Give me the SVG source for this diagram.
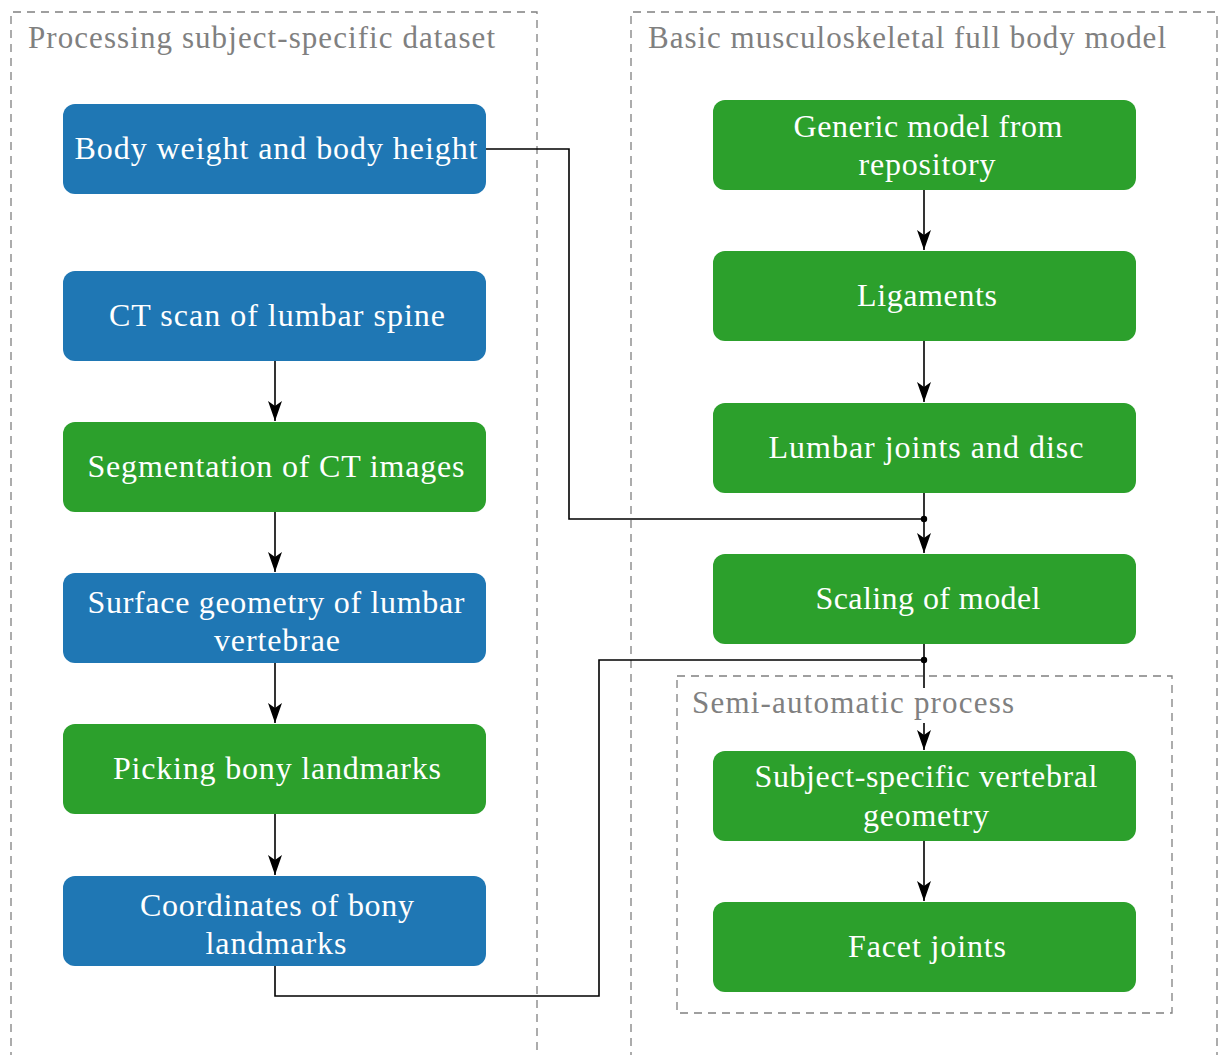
<svg xmlns="http://www.w3.org/2000/svg" width="1219" height="1055" viewBox="0 0 1219 1055">
<defs>
<marker id="ah" viewBox="0 0 20 14" refX="20" refY="7" markerWidth="20" markerHeight="14" markerUnits="userSpaceOnUse" orient="auto">
<path d="M0,0 L20,7 L0,14 L5,7 Z" fill="#000"/>
</marker>
<style>
.grp{fill:none;stroke:#808080;stroke-width:1.3;stroke-dasharray:8,6}
.gl{font-size:31px;fill:#808080}
.blue{fill:#1f77b4}
.green{fill:#2ca02c}
.t{font-size:32px;fill:#fff;text-anchor:middle}
.c{fill:none;stroke:#000;stroke-width:1.6}
.a{marker-end:url(#ah)}
</style>
</defs>
<rect width="1219" height="1055" fill="#fff"/>
<g id="groups" font-family="'Liberation Serif','DejaVu Serif',serif">
<path class="grp" d="M11,1060 L11,12 L537,12 L537,1060"/>
<text class="gl" x="28" y="48" textLength="467">Processing subject-specific dataset</text>
<path class="grp" d="M631,1060 L631,12 L1217,12 L1217,1060"/>
<text class="gl" x="648" y="48" textLength="518">Basic musculoskeletal full body model</text>
<rect class="grp" x="677" y="676" width="495" height="337"/>
</g>
<g id="connectors">
<path class="c" d="M486,149 H569 V519 H924"/>
<circle cx="924" cy="519" r="3.2" fill="#000"/>
<path class="c" d="M275,966 V996 H599 V660 H924"/>
<circle cx="924" cy="660" r="3.2" fill="#000"/>
<path class="c a" d="M275,361 V421"/>
<path class="c a" d="M275,512 V572"/>
<path class="c a" d="M275,663 V723"/>
<path class="c a" d="M275,814 V875"/>
<path class="c a" d="M924,190 V250"/>
<path class="c a" d="M924,341 V402"/>
<path class="c a" d="M924,493 V553"/>
<path class="c a" d="M924,644 V750"/>
<path class="c a" d="M924,841 V901"/>
</g>
<g id="semi-label" font-family="'Liberation Serif','DejaVu Serif',serif">
<rect x="688" y="688" width="332" height="35" fill="#fff"/>
<text class="gl" x="692" y="713" textLength="322">Semi-automatic process</text>
</g>
<g id="nodes" font-family="'Liberation Serif','DejaVu Serif',serif">
<g id="n1"><rect class="blue" x="63" y="104" width="423" height="90" rx="12"/><text class="t" x="276" y="159" textLength="403">Body weight and body height</text></g>
<g id="n2"><rect class="blue" x="63" y="271" width="423" height="90" rx="12"/><text class="t" x="277" y="326" textLength="336">CT scan of lumbar spine</text></g>
<g id="n3"><rect class="green" x="63" y="422" width="423" height="90" rx="12"/><text class="t" x="276" y="477" textLength="377">Segmentation of CT images</text></g>
<g id="n4"><rect class="blue" x="63" y="573" width="423" height="90" rx="12"/><text class="t" x="276" y="613" textLength="377">Surface geometry of lumbar</text><text class="t" x="277" y="651" textLength="126">vertebrae</text></g>
<g id="n5"><rect class="green" x="63" y="724" width="423" height="90" rx="12"/><text class="t" x="277" y="779" textLength="328">Picking bony landmarks</text></g>
<g id="n6"><rect class="blue" x="63" y="876" width="423" height="90" rx="12"/><text class="t" x="277" y="916" textLength="274">Coordinates of bony</text><text class="t" x="276" y="954" textLength="141">landmarks</text></g>
<g id="m1"><rect class="green" x="713" y="100" width="423" height="90" rx="12"/><text class="t" x="928" y="137" textLength="269">Generic model from</text><text class="t" x="927" y="175" textLength="137">repository</text></g>
<g id="m2"><rect class="green" x="713" y="251" width="423" height="90" rx="12"/><text class="t" x="927" y="306" textLength="140">Ligaments</text></g>
<g id="m3"><rect class="green" x="713" y="403" width="423" height="90" rx="12"/><text class="t" x="926" y="458" textLength="315">Lumbar joints and disc</text></g>
<g id="m4"><rect class="green" x="713" y="554" width="423" height="90" rx="12"/><text class="t" x="928" y="609" textLength="225">Scaling of model</text></g>
<g id="m5"><rect class="green" x="713" y="751" width="423" height="90" rx="12"/><text class="t" x="926" y="787" textLength="343">Subject-specific vertebral</text><text class="t" x="926" y="826" textLength="126">geometry</text></g>
<g id="m6"><rect class="green" x="713" y="902" width="423" height="90" rx="12"/><text class="t" x="927" y="957" textLength="158">Facet joints</text></g>
</g>
</svg>
